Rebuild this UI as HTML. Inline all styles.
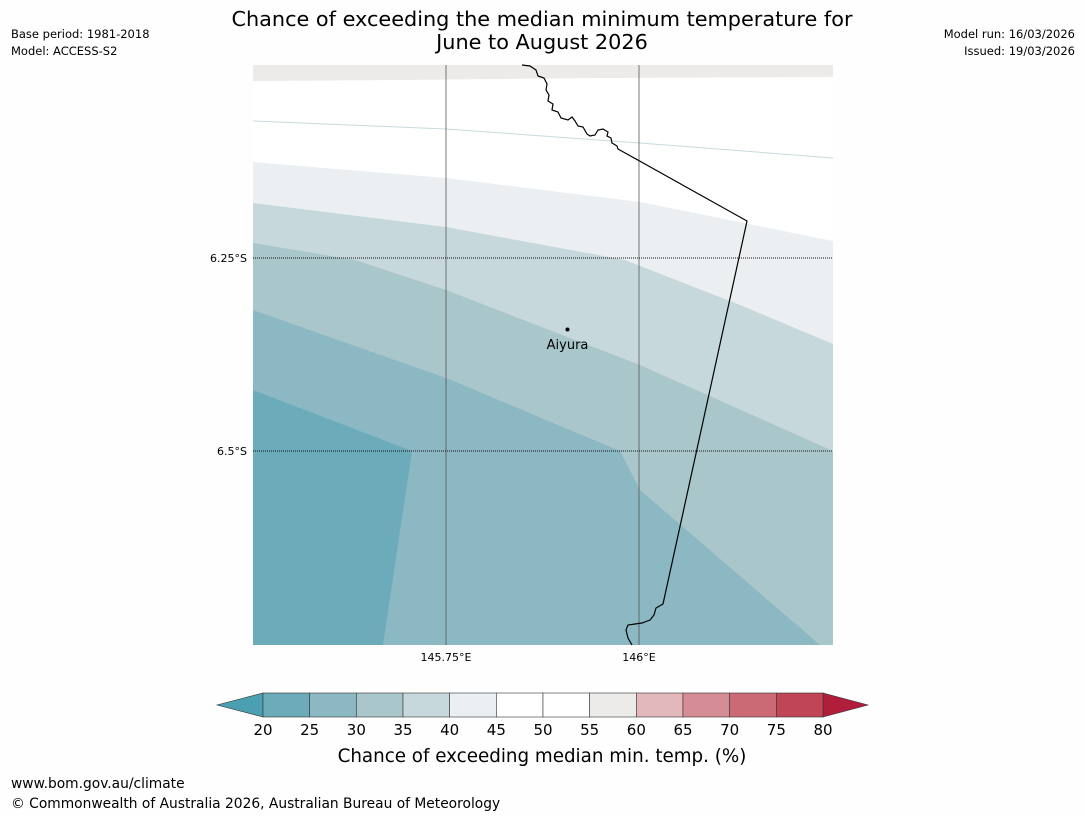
<!DOCTYPE html>
<html><head><meta charset="utf-8">
<style>
body{margin:0;background:#fdfefd;font-family:"Liberation Sans","DejaVu Sans",sans-serif;}
svg{display:block}
</style></head>
<body>
<svg width="1085" height="816" viewBox="0 0 1085 816" xmlns="http://www.w3.org/2000/svg" font-family="DejaVu Sans, Liberation Sans, sans-serif">
<rect width="1085" height="816" fill="#fdfefd"/>
<text x="542" y="26" font-size="20.8" text-anchor="middle">Chance of exceeding the median minimum temperature for</text>
<text x="542" y="49" font-size="20.8" text-anchor="middle">June to August 2026</text>
<text x="11" y="38" font-size="11.5">Base period: 1981-2018</text>
<text x="11" y="55" font-size="11.5">Model: ACCESS-S2</text>
<text x="1075" y="38" font-size="11.5" text-anchor="end">Model run: 16/03/2026</text>
<text x="1075" y="55" font-size="11.5" text-anchor="end">Issued: 19/03/2026</text>

<g>
<rect x="253" y="65" width="580" height="580" fill="#ffffff"/>
<polygon points="253,65 833,65 833,77 600,78 400,80 253,81" fill="#ecebe9"/>
<polyline points="253,121 446,129 640,143 833,158" fill="none" stroke="#c9dadd" stroke-width="1"/>
<polygon points="253,162 446,178 640,202 833,241 833,645 253,645" fill="#ebeff1"/>
<polygon points="253,203 446,227 625,260 740,305 833,344 833,645 253,645" fill="#c6d8dc"/>
<polygon points="253,243 355,260 446,290 640,365 833,451 833,645 253,645" fill="#a9c6ca"/>
<polygon points="253,310 446,378 620,451 640,490 820,645 253,645" fill="#8bb8c3"/>
<polygon points="253,390 412,451 383,645 253,645" fill="#6cacba"/>
<line x1="446" y1="65" x2="446" y2="645" stroke="#555" stroke-width="0.8"/>
<line x1="639" y1="65" x2="639" y2="645" stroke="#555" stroke-width="0.8"/>
<line x1="253" y1="258" x2="833" y2="258" stroke="#111" stroke-width="0.9" stroke-dasharray="1,1"/>
<line x1="253" y1="451" x2="833" y2="451" stroke="#111" stroke-width="0.9" stroke-dasharray="1,1"/>
<path d="M522,65 L530,66 L536,70 L538,76 L544,78 L547,84 L546,90 L549,95 L548,101 L553,104 L552,110 L558,112 L561,118 L568,120 L572,117 L575,121 L578,126 L583,127 L587,134 L590,136 L595,135 L598,130 L603,129 L608,132 L607,136 L611,138 L612,143 L617,146 L618,149 L747,221 L663,604 L656,608 L654,615 L650,620 L642,623 L628,625 L626,630 L628,638 L632,645" fill="none" stroke="#000" stroke-width="1.2"/>
<circle cx="567.5" cy="329.5" r="2" fill="#000"/>
<text x="567.5" y="349" font-size="13" text-anchor="middle">Aiyura</text>
</g>
<text x="247" y="262" font-size="11" text-anchor="end">6.25°S</text>
<text x="247" y="455" font-size="11" text-anchor="end">6.5°S</text>
<text x="446" y="661" font-size="11" text-anchor="middle">145.75°E</text>
<text x="639" y="661" font-size="11" text-anchor="middle">146°E</text>

<g id="cbar"></g>
<text x="542" y="762" font-size="18.3" text-anchor="middle">Chance of exceeding median min. temp. (%)</text>
<text x="11" y="788" font-size="13.8">www.bom.gov.au/climate</text>
<text x="11" y="808" font-size="13.8">© Commonwealth of Australia 2026, Australian Bureau of Meteorology</text>
</svg>
<script>
const ticks=[20,25,30,35,40,45,50,55,60,65,70,75,80];
const colors=['#6cacba','#8bb8c3','#a9c6ca','#c6d8dc','#ebeff1','#ffffff','#ffffff','#ecebe9','#e2b8bd','#d68c95','#cb6a75','#c04555'];
const NS='http://www.w3.org/2000/svg';
const g=document.getElementById('cbar');
const x0=263,x1=823,y0=693,y1=717;
const xs=v=>x0+(v-ticks[0])/(ticks[ticks.length-1]-ticks[0])*(x1-x0);
function mk(t,a){const e=document.createElementNS(NS,t);for(const k in a)e.setAttribute(k,a[k]);g.appendChild(e);return e;}
let l=mk('polygon',{points:`${x0},${y0} ${x0},${y1} 217,705`,fill:'#4aa0b0',stroke:'#333','stroke-width':0.6});


let r=mk('polygon',{points:`${x1},${y0} ${x1},${y1} 868,705`,fill:'#b01e3c',stroke:'#333','stroke-width':0.6});


for(let i=0;i<colors.length;i++){
 const a=xs(ticks[i]),b=xs(ticks[i+1]);
 const s=mk('rect',{x:a,y:y0,width:b-a,height:y1-y0,fill:colors[i],stroke:'#333','stroke-width':0.6});
 
 
}
ticks.forEach(v=>{
 const t=mk('text',{x:xs(v),y:735,'font-size':15,'text-anchor':'middle'});
 t.textContent=v;
 
 
});
</script>
</body></html>
